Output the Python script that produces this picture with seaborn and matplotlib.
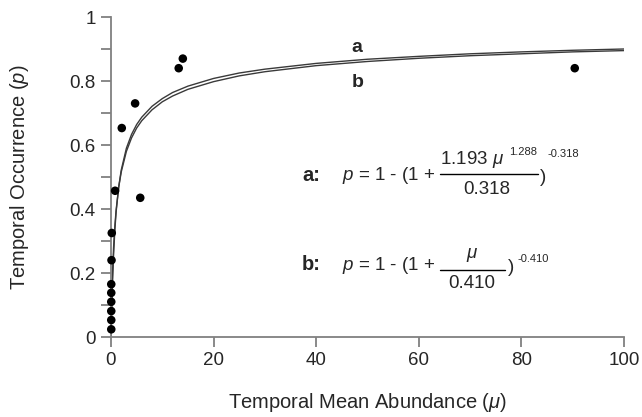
import numpy as np
import pandas as pd
import seaborn as sns
import matplotlib.pyplot as plt
from matplotlib.lines import Line2D
from matplotlib.ticker import MultipleLocator

# observed points (mean abundance, occurrence)
obs_mu = [0.05, 0.05, 0.05, 0.05, 0.05, 0.05, 0.1, 0.15, 0.8, 2.1, 4.7, 5.7, 13.2, 14.0, 90.4]
obs_p = [0.024, 0.053, 0.081, 0.11, 0.138, 0.165, 0.24, 0.325, 0.457, 0.653, 0.73, 0.435, 0.84, 0.87, 0.84]

# fitted curves
curve_mu = [0, 0.05, 0.1, 0.2, 0.3, 0.5, 0.75, 1, 1.5, 2, 3, 4, 5, 6, 8, 10, 12, 15,
            20, 25, 30, 40, 50, 60, 70, 80, 90, 100]
curve_a = [0, 0.024, 0.055, 0.116, 0.170, 0.256, 0.334, 0.391, 0.469, 0.522, 0.590, 0.633,
           0.664, 0.687, 0.721, 0.745, 0.764, 0.784, 0.808, 0.825, 0.837, 0.855, 0.868,
           0.877, 0.885, 0.891, 0.896, 0.900]
curve_b = [0, 0.046, 0.086, 0.150, 0.202, 0.279, 0.347, 0.397, 0.468, 0.516, 0.580, 0.622,
           0.653, 0.676, 0.710, 0.735, 0.753, 0.774, 0.798, 0.816, 0.829, 0.848, 0.861,
           0.871, 0.879, 0.885, 0.891, 0.895]

sns.set_style("ticks")
plt.rcParams['font.family'] = ['Liberation Sans', 'DejaVu Sans']
plt.rcParams['mathtext.fontset'] = 'custom'
plt.rcParams['mathtext.rm'] = 'Liberation Sans'
plt.rcParams['mathtext.it'] = 'Liberation Sans:italic'
plt.rcParams['mathtext.bf'] = 'Liberation Sans:bold'

W, H = 642, 417
fig = plt.figure(figsize=(W / 100, H / 100), dpi=100)
ax = fig.add_axes([111 / W, 1 - 337 / H, 513 / W, 320 / H])

curves = pd.DataFrame({'mu': curve_mu + curve_mu,
                       'p': curve_a + curve_b,
                       'fit': ['a'] * len(curve_mu) + ['b'] * len(curve_mu)})
sns.lineplot(data=curves, x='mu', y='p', hue='fit', palette=['#3a3a3a', '#3a3a3a'],
             linewidth=1.0, legend=False, ax=ax)
sns.scatterplot(x=obs_mu, y=obs_p, color='black', s=38, edgecolor='none',
                clip_on=False, zorder=5, ax=ax)

ax.set_xlim(0, 100)
ax.set_ylim(0, 1)
ax.xaxis.set_major_locator(MultipleLocator(20))
ax.set_yticks([0, 0.2, 0.4, 0.6, 0.8, 1.0])
ax.set_yticklabels(['0', '0.2', '0.4', '0.6', '0.8', '1'])
ax.yaxis.set_minor_locator(MultipleLocator(0.1))

sns.despine(ax=ax)
for s in ['left', 'bottom']:
    ax.spines[s].set_color('#808080')
    ax.spines[s].set_linewidth(1.3)
ax.tick_params(which='both', direction='out', length=7, width=1.3, color='#808080',
               labelsize=13.5, pad=4)

ax.set_xlabel(r'Temporal Mean Abundance ($\mu$)', fontsize=14.5, labelpad=16)
ax.set_ylabel(r'Temporal Occurrence ($p$)', fontsize=14.5, labelpad=28)

ax.text(48, 0.905, 'a', fontsize=14, fontweight='bold', ha='center', va='center')
ax.text(48, 0.795, 'b', fontsize=14, fontweight='bold', ha='center', va='center')


# equations, placed in figure pixel coordinates (y from top)
def txt(x, y, s, size=13.5, **kw):
    fig.text(x / W, 1 - y / H, s, fontsize=size, va='center', **kw)


def bar(x0, x1, y):
    fig.add_artist(Line2D([x0 / W, x1 / W], [1 - y / H, 1 - y / H],
                          transform=fig.transFigure, color='black', lw=1.0))


txt(302, 175, 'a:', size=14.5, fontweight='bold')
txt(342, 175, r'$p$ = 1 - (1 +')
txt(440, 159, r'1.193 $\mu$')
txt(509, 152, '1.288', size=8)
bar(440, 538, 174)
txt(487, 189, '0.318', ha='center')
txt(540, 177, ')')
txt(547, 154, '-0.318', size=8)

txt(302, 265, 'b:', size=14.5, fontweight='bold')
txt(342, 265, r'$p$ = 1 - (1 +')
txt(472, 255, r'$\mu$', ha='center')
bar(440, 505, 270)
txt(472, 284, '0.410', ha='center')
txt(508, 267, ')')
txt(517, 259, '-0.410', size=8)

fig.savefig('out.png', dpi=100)
